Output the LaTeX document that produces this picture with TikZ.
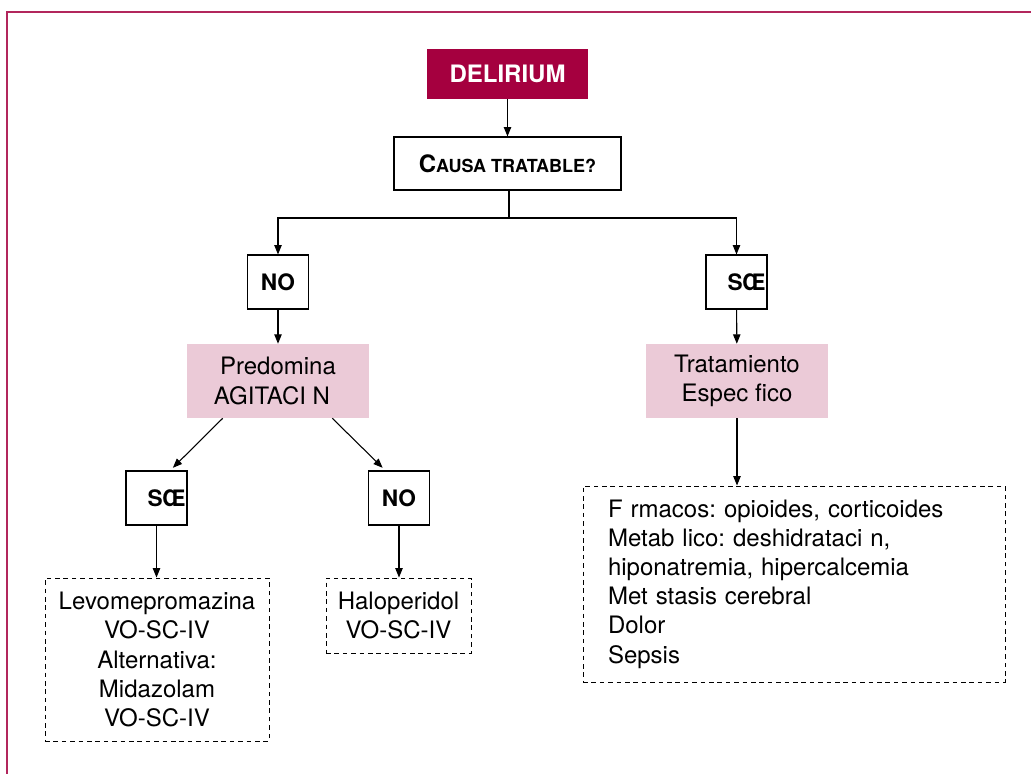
\documentclass[tikz,border=0pt]{standalone}
\usepackage{fontspec}
\setmainfont{TeX Gyre Heros}
\usetikzlibrary{arrows.meta}
\frenchspacing

\definecolor{carmin}{HTML}{A5003F}
\definecolor{rosa}{HTML}{EBCAD7}

\tikzset{
	texto/.style={inner sep=0pt, align=center, font=\fontsize{18}{21.9}\selectfont},
	titulo/.style={texto, fill=carmin, text=white, font=\fontsize{18}{22}\selectfont\bfseries,
		minimum width=120.75pt, minimum height=37.5pt},
	pregunta/.style={texto, draw, line width=0.8pt, font=\fontsize{18}{22}\selectfont\bfseries,
		minimum width=170.25pt, minimum height=39.75pt},
	respuesta/.style={texto, draw, line width=0.8pt, font=\fontsize{17}{20}\selectfont\bfseries,
		minimum width=45.75pt, minimum height=40.5pt},
	destacado/.style={texto, fill=rosa, minimum width=136.5pt, minimum height=55.5pt},
	opcion/.style={texto, draw, line width=0.7pt, dash pattern=on 3.5pt off 2.8pt},
	flecha/.style={line width=0.8pt, -{Triangle[length=7pt,width=5.5pt]}},
	marco/.style={carmin!85, line width=1.6pt}
}

\begin{document}
\begin{tikzpicture}[x=0.75pt, y=-0.75pt]
	\useasboundingbox (0,0) rectangle (1031,774);
	% marco exterior
	\draw[marco] (7,774) -- (7,12) -- (1031,12);
	
	%%%%%%%%%%%%%%%%% nodos %%%%%%%%%%%%%%%%%%%
	\node[titulo]   (delirium) at (507.5,74)  {DELIRIUM};
	\node[pregunta] (causa)    at (507.5,163.5)
	{C{\fontsize{13.5}{16}\selectfont AUSA TRATABLE?}};
	\coordinate (rama) at (509,218);
	
	% rama NO
	\node[respuesta] (no)    at (278,282) {NO};
	\node[destacado] (pred)  at (278,381) {Predomina\\AGITACI N\hspace*{9pt}};
	\node[respuesta] (siA)   at (156.5,498) {\hspace*{15pt}SŒ};
	\node[respuesta] (noA)   at (399,498) {NO};
	\node[opcion, minimum width=168pt, minimum height=122.25pt] (levo) at (157,659.5)
	{Levomepromazina\\VO-SC-IV\\Alternativa:\\Midazolam\\VO-SC-IV};
	\node[opcion, minimum width=108.75pt, minimum height=56.25pt] (halo) at (398.5,615.5)
	{Haloperidol\\VO-SC-IV};
	
	% rama SI
	\node[respuesta] (si)    at (736.5,282) {\hspace*{15pt}SŒ};
	\node[destacado] (trat)  at (737,381) {Tratamiento\\Espec fico};
	\node[opcion, align=left, text width=279pt, inner xsep=18.75pt,
	minimum height=147pt] (causas) at (794,584)
	{F rmacos: opioides, corticoides\\
		Metab lico: deshidrataci n,\\
		hiponatremia, hipercalcemia\\
		Met stasis cerebral\\
		Dolor\\
		Sepsis};
	
	%%%%%%%%%%%%%%%%% conectores %%%%%%%%%%%%%%%%%%%
	\draw[flecha] (delirium) -- (causa);
	\draw[line width=0.8pt] (causa.south -| rama) -- (rama);
	\draw[flecha] (rama) -| (no);
	\draw[flecha] (rama) -| (si);
	\draw[flecha] (no) -- (pred);
	\draw[flecha] (si) -- (trat);
	\draw[flecha] ([xshift=27pt]pred.south west) -- ([xshift=-11pt,yshift=2pt]siA.north east);
	\draw[flecha] ([xshift=-27.75pt]pred.south east) -- ([xshift=11pt,yshift=2pt]noA.north west);
	\draw[flecha] (siA) -- (siA |- levo.north);
	\draw[flecha] (noA) -- (noA |- halo.north);
	\draw[flecha] (trat) -- (trat |- causas.north);
\end{tikzpicture}
\end{document}
